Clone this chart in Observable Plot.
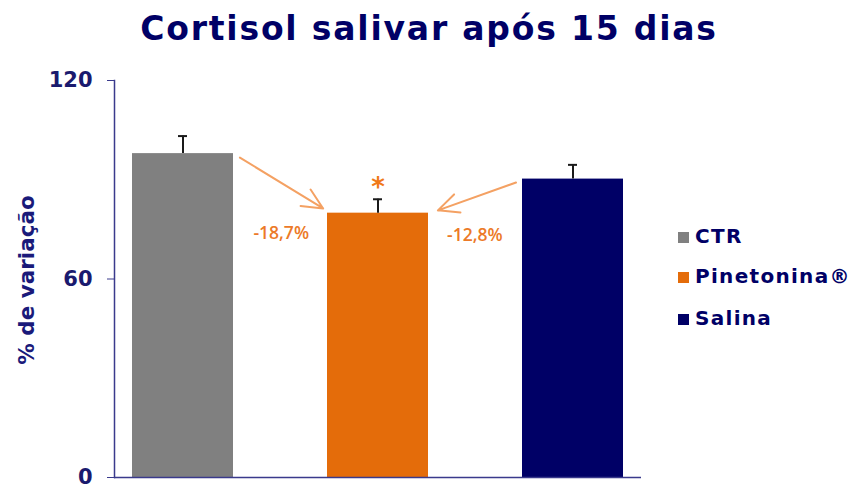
<!DOCTYPE html>
<html>
<head>
<meta charset="utf-8">
<script src="https://cdn.jsdelivr.net/npm/d3@7"></script>
<script src="https://cdn.jsdelivr.net/npm/@observablehq/plot@0.6"></script>
<style>
  html, body { margin: 0; padding: 0; background: #fff; }
  #wrap { position: relative; width: 851px; height: 484px; overflow: hidden; font-family: "DejaVu Sans", Verdana, sans-serif; }
  #title { position: absolute; left: 0; width: 858px; top: 9px; text-align: center; font-weight: bold; font-size: 33px; color: #000066; font-family: "DejaVu Sans", sans-serif; letter-spacing: 1.8px; }
  #ylabel { position: absolute; left: 26px; top: 280px; transform: translate(-50%, -50%) rotate(-90deg); white-space: nowrap; font-weight: bold; font-size: 21.5px; color: #1a1a7a; }
  #legend { position: absolute; left: 678px; top: 226px; }
  .row { position: absolute; left: 0; white-space: nowrap; font-weight: bold; font-size: 20px; letter-spacing: 1.3px; color: #000066; }
  .sw { position: absolute; left: 0; width: 11px; height: 11px; }
  .lt { position: absolute; left: 17px; }
  #chart { position: absolute; left: 0; top: 0; }
  #chart svg g[aria-label="y-axis tick label"] text { font-weight: bold; }
</style>
</head>
<body>
<div id="wrap">
  <div id="chart"></div>
  <div id="title">Cortisol salivar após 15 dias</div>
  <div id="ylabel">% de variação</div>
  <div id="legend"></div>
</div>
<script>
// Data
const categories = ["CTR", "Pinetonina®", "Salina"];
const values = [97.9, 79.9, 90.2];
const errors = [103.2, 84.1, 94.5];
const colors = ["#808080", "#e46c0a", "#000066"];
const yTicks = [0, 60, 120];

// annotations
const changeLabels = ["-18,7%", "-12,8%"];
const arrowFrom = ["CTR", "Salina"];
const arrowFromY = [107.2, 95.3];
const arrowTo = ["Pinetonina®", "Pinetonina®"];
const arrowToY = [71.2, 74.3];
const labelY = [73.8, 73.2];

const data = categories.map((c, i) => ({name: c, value: values[i], err: errors[i], color: colors[i]}));
const arrows = arrowFrom.map((f, i) => ({x1: f, y1: arrowFromY[i], x2: arrowTo[i], y2: arrowToY[i]}));

const navy = "#3a3a8c";
const orange = "#ec7a28";

const chart = Plot.plot({
  width: 851,
  height: 484,
  marginLeft: 114,
  marginRight: 210,
  marginTop: 80,
  marginBottom: 7,
  x: {domain: categories, paddingInner: 0.48, paddingOuter: 0.085, axis: null},
  y: {domain: [0, 120]},
  style: {fontFamily: "DejaVu Sans, sans-serif", background: "transparent", fontWeight: "bold"},
  marks: [
    Plot.barY(data, {x: "name", y: "value", fill: "color"}),
    Plot.ruleX(data, {x: "name", y1: "value", y2: "err", stroke: "#1a1a1a", strokeWidth: 2}),
    Plot.tickY(data, {x: "name", y: "err", stroke: "#1a1a1a", strokeWidth: 2, insetLeft: 46, insetRight: 46}),
    Plot.arrow(arrows.slice(0, 1), {x1: "x1", y1: "y1", x2: "x2", y2: "y2", stroke: "#f4a163", strokeWidth: 2, headLength: 17, headAngle: 50, insetStart: 66.7, insetEnd: 64.3}),
    Plot.arrow(arrows.slice(1), {x1: "x1", y1: "y1", x2: "x2", y2: "y2", stroke: "#f4a163", strokeWidth: 2, headLength: 17, headAngle: 50, insetStart: 60.5, insetEnd: 63.6}),
    Plot.text([changeLabels[0]], {x: () => categories[1], y: () => labelY[0], text: d => d, textAnchor: "end", dx: -69, fill: orange, fontSize: 17.5, fontWeight: 600, fontFamily: "Open Sans, sans-serif"}),
    Plot.text([changeLabels[1]], {x: () => categories[1], y: () => labelY[1], text: d => d, textAnchor: "start", dx: 69, fill: orange, fontSize: 17.5, fontWeight: 600, fontFamily: "Open Sans, sans-serif"}),
    Plot.text([data[1]], {x: "name", y: "err", text: () => "*", dy: -12, fill: "#f07818", fontSize: 26, fontWeight: "bold"}),
    Plot.ruleY([0], {stroke: navy, strokeWidth: 1.5}),
    Plot.frame({anchor: "left", stroke: navy, strokeWidth: 1.5}),
    Plot.axisY({ticks: yTicks, tickSize: 7, tickPadding: 15, label: null, stroke: navy, fill: "#1a1a6e", fontSize: 21, fontWeight: "bold", tickFormat: d => String(d)})
  ]
});
document.getElementById("chart").appendChild(chart);

// legend
const legend = document.getElementById("legend");
const rowY = [12, 52, 94];
categories.forEach((c, i) => {
  const row = document.createElement("div");
  row.className = "row";
  row.style.top = (rowY[i] - 6) + "px";
  const sw = document.createElement("div");
  sw.className = "sw";
  sw.style.background = colors[i];
  const t = document.createElement("div");
  t.className = "lt";
  t.style.top = "-8px";
  t.textContent = c;
  row.appendChild(sw);
  row.appendChild(t);
  legend.appendChild(row);
});
</script>
</body>
</html>
